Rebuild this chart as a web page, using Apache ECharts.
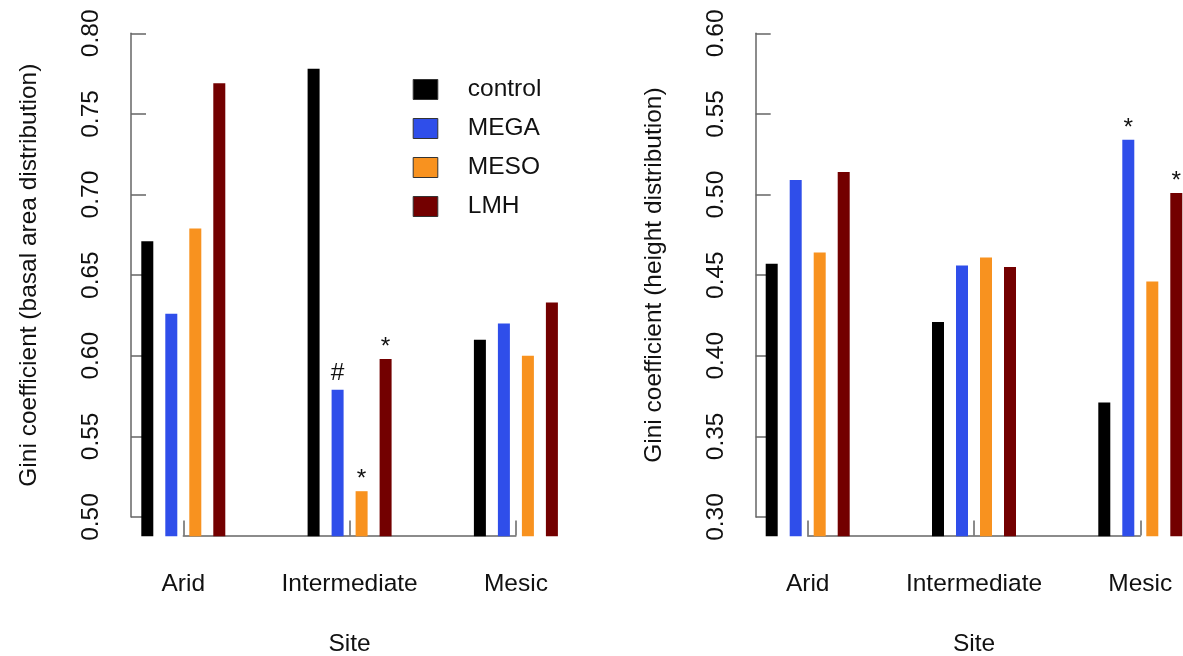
<!DOCTYPE html>
<html>
<head>
<meta charset="utf-8">
<script src="https://cdn.jsdelivr.net/npm/echarts@6/dist/echarts.min.js"></script>
<style>
  html, body { margin: 0; padding: 0; background: #ffffff; }
  #chart { width: 1183px; height: 656px; }
</style>
</head>
<body>
<div id="chart"></div>
<script>
// Sites and treatments
const sites = ['Arid', 'Intermediate', 'Mesic'];
const treatments = ['control', 'MEGA', 'MESO', 'LMH'];
const treatmentColors = ['#000000', '#2f4eea', '#f8921f', '#730000'];

// Gini coefficient of basal area distribution, per site
const basalControl = [0.671, 0.778, 0.610];
const basalMega    = [0.626, 0.579, 0.620];
const basalMeso    = [0.679, 0.516, 0.600];
const basalLmh     = [0.769, 0.598, 0.633];
const basalNotesControl = ['', '', ''];
const basalNotesMega    = ['', '#', ''];
const basalNotesMeso    = ['', '*', ''];
const basalNotesLmh     = ['', '*', ''];

// Gini coefficient of height distribution, per site
const heightControl = [0.457, 0.421, 0.371];
const heightMega    = [0.509, 0.456, 0.534];
const heightMeso    = [0.464, 0.461, 0.446];
const heightLmh     = [0.514, 0.455, 0.501];
const heightNotesControl = ['', '', ''];
const heightNotesMega    = ['', '', '*'];
const heightNotesMeso    = ['', '', ''];
const heightNotesLmh     = ['', '', '*'];

// Axis ticks
const basalTicks  = [0.50, 0.55, 0.60, 0.65, 0.70, 0.75, 0.80];
const heightTicks = [0.30, 0.35, 0.40, 0.45, 0.50, 0.55, 0.60];
const tickStep = 0.05;

const FONT = '"Liberation Sans", Arial, Helvetica, sans-serif';
const FS = 24.5;
const TEXT = '#111111';
const AXIS_COLOR = '#666666';

// Layout (pixels)
const PITCH = 166.3;          // distance between site groups
const AXIS_TOP = 33.3;        // y of the highest tick
const AXIS_BOTTOM = 517;      // y of the lowest tick
const PAD_FRAC = 0.04;        // plot range padding beyond the ticks

const grids = [], xAxes = [], yAxes = [], series = [];

function makeGrid(left, top, width, height) {
  // keep each grid exactly where it is placed, even if its labels reach the edge
  return { left, top, width, height, outerBoundsMode: 'none', containLabel: false };
}

function panel(axisX, firstCenter, ticks, yTitle, valueSets, noteSets) {
  const lo = ticks[0], hi = ticks[ticks.length - 1];
  const pad = (hi - lo) * PAD_FRAC;
  const pxPerUnit = (AXIS_BOTTOM - AXIS_TOP) / (hi - lo);
  const plotTop = AXIS_TOP - pad * pxPerUnit;
  const plotBottom = AXIS_BOTTOM + pad * pxPerUnit;
  const g = grids.length;

  // bars
  grids.push(makeGrid(firstCenter - PITCH / 2, plotTop, 3 * PITCH, plotBottom - plotTop));
  // value axis (spans first to last tick)
  grids.push(makeGrid(axisX, AXIS_TOP, 10, AXIS_BOTTOM - AXIS_TOP));
  // site axis (spans first to last site)
  grids.push(makeGrid(firstCenter, plotTop, 2 * PITCH, plotBottom - 0.8 - plotTop));

  xAxes.push({ gridIndex: g, type: 'category', data: sites, show: false });
  yAxes.push({ gridIndex: g, type: 'value', min: lo - pad, max: hi + pad, show: false });

  xAxes.push({ gridIndex: g + 1, type: 'value', show: false });
  yAxes.push({
    gridIndex: g + 1, type: 'value', min: lo, max: hi, interval: tickStep,
    axisLine: { show: true, lineStyle: { color: AXIS_COLOR, width: 1.5 } },
    axisTick: { show: true, inside: true, length: 15, lineStyle: { color: AXIS_COLOR, width: 1.5 } },
    splitLine: { show: false },
    axisLabel: {
      rotate: 90, margin: 27, fontSize: FS, fontFamily: FONT, color: TEXT,
      formatter: v => v.toFixed(2)
    },
    name: yTitle, nameLocation: 'middle', nameRotate: 90, nameGap: 89,
    nameTextStyle: { fontSize: FS, fontFamily: FONT, color: TEXT }
  });

  xAxes.push({
    gridIndex: g + 2, type: 'category', data: sites, boundaryGap: false,
    axisLine: { show: true, lineStyle: { color: AXIS_COLOR, width: 1.5 } },
    axisTick: { show: true, inside: true, length: 15, lineStyle: { color: AXIS_COLOR, width: 1.5 } },
    axisLabel: { margin: 36, fontSize: FS, fontFamily: FONT, color: TEXT, interval: 0 },
    name: 'Site', nameLocation: 'middle', nameGap: 96,
    nameTextStyle: { fontSize: FS, fontFamily: FONT, color: TEXT }
  });
  yAxes.push({ gridIndex: g + 2, type: 'value', show: false });

  const xi = xAxes.length - 3, yi = yAxes.length - 3;
  treatments.forEach((name, s) => {
    series.push({
      type: 'bar', name, xAxisIndex: xi, yAxisIndex: yi,
      barWidth: 12, barGap: '100%',
      itemStyle: { color: treatmentColors[s] },
      data: valueSets[s].map((v, j) => {
        const note = noteSets[s][j];
        if (!note) return v;
        return {
          value: v,
          label: {
            show: true, position: 'top', formatter: note,
            distance: note === '#' ? 4 : -1,
            fontSize: FS, fontFamily: FONT, color: TEXT
          }
        };
      })
    });
  });
}

panel(131, 183.3, basalTicks, 'Gini coefficient (basal area distribution)',
  [basalControl, basalMega, basalMeso, basalLmh],
  [basalNotesControl, basalNotesMega, basalNotesMeso, basalNotesLmh]);

panel(755.7, 807.7, heightTicks, 'Gini coefficient (height distribution)',
  [heightControl, heightMega, heightMeso, heightLmh],
  [heightNotesControl, heightNotesMega, heightNotesMeso, heightNotesLmh]);

const chart = echarts.init(document.getElementById('chart'), null, { renderer: 'canvas' });
chart.setOption({
  animation: false,
  backgroundColor: '#ffffff',
  textStyle: { fontFamily: FONT },
  grid: grids,
  xAxis: xAxes,
  yAxis: yAxes,
  legend: {
    data: treatments,
    orient: 'vertical',
    left: 412.7, top: 77,
    padding: 0,
    itemWidth: 24.6, itemHeight: 20, itemGap: 14,
    icon: 'rect',
    itemStyle: { borderColor: '#333333', borderWidth: 1 },
    textStyle: { fontSize: FS, fontFamily: FONT, color: TEXT, lineHeight: 20, padding: [0, 0, 0, 25] },
    selectedMode: false
  },
  series
});
</script>
</body>
</html>
